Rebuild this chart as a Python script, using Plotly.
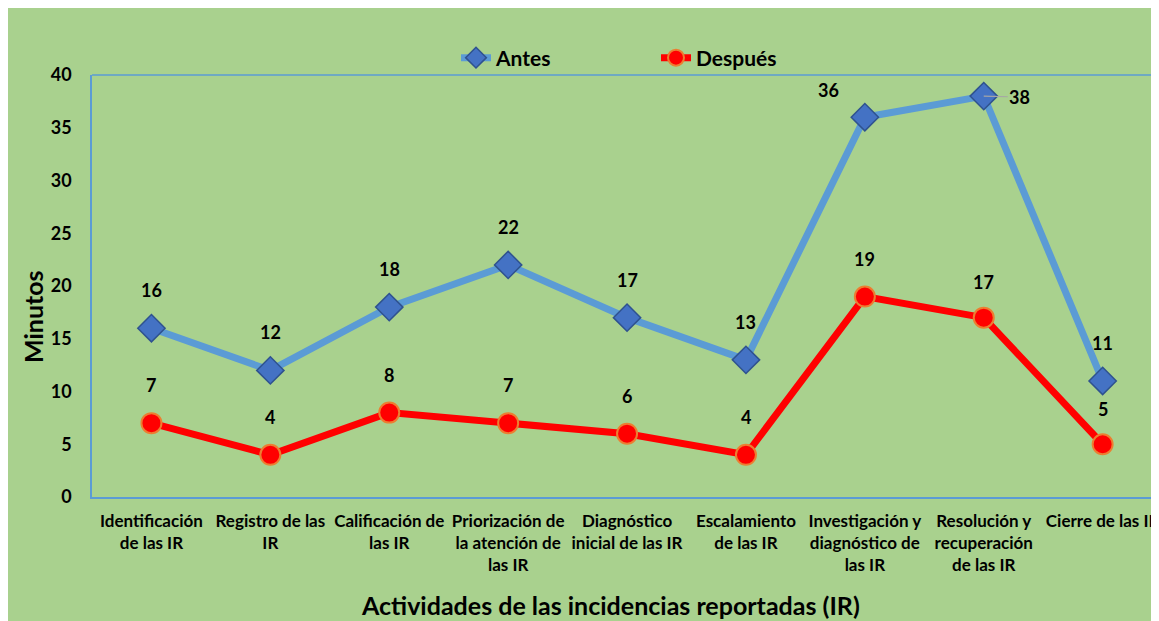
import plotly.graph_objects as go

categories = [
    "Identificación<br>de las IR",
    "Registro de las<br>IR",
    "Calificación de<br>las IR",
    "Priorización de<br>la atención de<br>las IR",
    "Diagnóstico<br>inicial de las IR",
    "Escalamiento<br>de las IR",
    "Investigación y<br>diagnóstico de<br>las IR",
    "Resolución y<br>recuperación<br>de las IR",
    "Cierre de las IR",
]
antes = [16, 12, 18, 22, 17, 13, 36, 38, 11]
despues = [7, 4, 8, 7, 6, 4, 19, 17, 5]

# label offsets (pixels) per point
antes_dx = [0, 0, 0, 0, 0, 0, -36, 36, 0]
antes_dy = [38, 38, 38, 38, 38, 38, 27, -1, 38]
despues_dx = [0, 0, 0, 0, 0, 0, 0, 0, 0]
despues_dy = [38, 38, 38, 38, 38, 38, 38, 36, 35]

FONT = "Lato"
x_idx = list(range(len(categories)))

fig = go.Figure()
fig.add_trace(go.Scatter(
    x=x_idx, y=antes, name="<b>Antes</b>", mode="lines+markers",
    line=dict(color="#5B9BD5", width=7),
    marker=dict(symbol="diamond", size=21, color="#4472C4",
                line=dict(color="#2F528F", width=1.5)),
))
fig.add_trace(go.Scatter(
    x=x_idx, y=despues, name="<b>Después</b>", mode="lines+markers",
    line=dict(color="#FF0000", width=7),
    marker=dict(symbol="circle", size=20, color="#FF0000",
                line=dict(color="#ED7D31", width=2)),
))

annotations = []
for i, v in enumerate(antes):
    if antes_dx[i] > 20:
        annotations.append(dict(
            x=i, y=v, text=f"<b>{v}</b>", showarrow=True, arrowhead=0,
            arrowwidth=1.2, arrowcolor="#A6A6A6", ax=antes_dx[i], ay=-antes_dy[i],
            font=dict(family=FONT, size=18, color="black")))
    else:
        annotations.append(dict(
            x=i, y=v, text=f"<b>{v}</b>", showarrow=False,
            xshift=antes_dx[i], yshift=antes_dy[i],
            font=dict(family=FONT, size=18, color="black")))
for i, v in enumerate(despues):
    annotations.append(dict(
        x=i, y=v, text=f"<b>{v}</b>", showarrow=False,
        xshift=despues_dx[i], yshift=despues_dy[i],
        font=dict(family=FONT, size=18, color="black")))

# figure sits 8px in from the page corner
L, T = 84, 67
W, H = 1159, 621
BOTTOM = 489
B = H - BOTTOM
pw = W - L
ph = H - T - B

# axis titles
annotations.append(dict(
    x=(602 - L) / pw, y=(BOTTOM - 597) / ph, xref="paper", yref="paper", showarrow=False,
    text="<b>Actividades de las incidencias reportadas (IR)</b>",
    font=dict(family=FONT, size=25, color="black"), yanchor="middle"))
annotations.append(dict(
    x=(25 - L) / pw, y=(BOTTOM - 308) / ph, xref="paper", yref="paper", showarrow=False,
    text="<b>Minutos</b>", textangle=-90,
    font=dict(family=FONT, size=25, color="black"), xanchor="center", yanchor="middle"))

fig.update_layout(
    width=W, height=H,
    margin=dict(l=L, r=0, t=T, b=B),
    paper_bgcolor="#A9D18E",
    plot_bgcolor="rgba(0,0,0,0)",
    showlegend=True,
    legend=dict(orientation="h", x=(448 - L) / pw, y=(ph + 17) / ph, xanchor="left", yanchor="middle",
                font=dict(family=FONT, size=21, color="black"), bgcolor="rgba(0,0,0,0)",
                entrywidth=155, entrywidthmode="pixels", traceorder="normal"),
    font=dict(family=FONT, color="black"),
    annotations=annotations,
    shapes=[
        dict(type="line", xref="paper", yref="paper", layer="above",
             x0=0, x1=1.02, y0=1, y1=1, line=dict(color="#5B9BD5", width=1.5)),
    ],
)

fig.update_xaxes(
    range=[-0.5, (pw / 118.9) - 0.5], tickmode="array", tickvals=x_idx,
    ticktext=[f"<b>{c}</b>" for c in categories],
    showgrid=False, zeroline=False, showline=True, mirror=False,
    linecolor="#5B9BD5", linewidth=1.5, ticks="", ticklabelstandoff=8,
    tickfont=dict(family=FONT, size=17, color="black"),
)
fig.update_yaxes(
    range=[0, 40], dtick=5, showgrid=False, zeroline=False,
    showline=True, mirror=False, linecolor="#5B9BD5", linewidth=1.5,
    ticks="", ticklabelstandoff=15,
    tickfont=dict(family=FONT, size=18, color="black"),
    tickprefix="<b>", ticksuffix="</b>",
)

fig.write_html("out.html")
